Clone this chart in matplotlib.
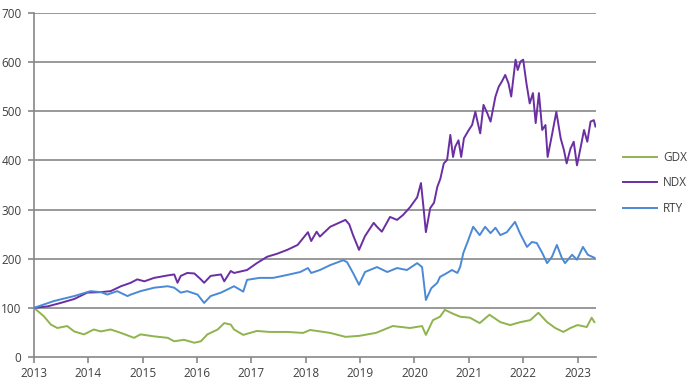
import matplotlib
matplotlib.use("Agg")
import matplotlib.pyplot as plt

# ---- data (fractional year, index value) ----
ndx_t = [2013.0, 2013.25, 2013.49, 2013.74, 2013.98, 2014.23, 2014.41, 2014.6, 2014.78, 2014.9,
         2015.03, 2015.21, 2015.46, 2015.58, 2015.64, 2015.7, 2015.82, 2015.95, 2016.07, 2016.13,
         2016.25, 2016.44, 2016.5, 2016.62, 2016.68, 2016.92, 2017.1, 2017.29, 2017.47, 2017.66,
         2017.85, 2018.04, 2018.1, 2018.2, 2018.26, 2018.45, 2018.73, 2018.8, 2018.87, 2018.98,
         2019.09, 2019.25, 2019.31, 2019.4, 2019.55, 2019.68, 2019.79, 2019.92, 2020.05, 2020.12,
         2020.17, 2020.21, 2020.29, 2020.36, 2020.42,
         2020.477, 2020.54, 2020.60, 2020.66, 2020.71, 2020.75, 2020.81, 2020.86, 2020.91, 2021.00,
         2021.06, 2021.12, 2021.16, 2021.21, 2021.27, 2021.34, 2021.40, 2021.49, 2021.55, 2021.61,
         2021.67, 2021.73, 2021.78, 2021.86, 2021.90, 2021.95, 2022.00, 2022.06, 2022.12, 2022.18,
         2022.23, 2022.29, 2022.35, 2022.41, 2022.45, 2022.53, 2022.61, 2022.69, 2022.75, 2022.80,
         2022.87, 2022.93, 2022.99, 2023.06, 2023.12, 2023.18, 2023.24, 2023.30, 2023.33]
ndx_v = [100, 103, 110, 118, 131, 132, 134, 144, 151, 158,
         154, 161, 166, 168, 151, 165, 171, 170, 158, 151,
         165, 168, 154, 175, 171, 177, 191, 204, 210, 218,
         228, 254, 236, 255, 245, 265, 279, 270, 248, 218,
         246, 273, 265, 255, 285, 279, 289, 305, 325, 354,
         300, 254, 303, 314, 346,
         363, 394, 401, 452, 407, 428, 441, 407, 445, 462,
         472, 499, 479, 455, 513, 496, 479, 530, 550, 561,
         574, 557, 530, 605, 584, 601, 605, 557, 516, 537,
         476, 537, 462, 472, 407, 452, 499, 445, 421, 394,
         424, 438, 390, 428, 462, 438, 479, 482, 469]

rty_t = [2013.0, 2013.37, 2013.74, 2014.04, 2014.23, 2014.35, 2014.53, 2014.72, 2014.78, 2014.96,
         2015.21, 2015.46, 2015.58, 2015.7, 2015.82, 2016.01, 2016.13, 2016.25, 2016.44, 2016.68,
         2016.85, 2016.92, 2017.15, 2017.4, 2017.66, 2017.9, 2018.04, 2018.1, 2018.26, 2018.45,
         2018.69, 2018.76, 2018.87, 2018.98, 2019.09, 2019.31, 2019.5, 2019.68, 2019.86, 2020.05,
         2020.14, 2020.21, 2020.31, 2020.42, 2020.47, 2020.6, 2020.69, 2020.79, 2020.84, 2020.9,
         2020.99, 2021.08, 2021.2, 2021.3, 2021.4, 2021.49, 2021.58, 2021.7, 2021.85, 2021.94,
         2022.07, 2022.16, 2022.25, 2022.35, 2022.44, 2022.53, 2022.62, 2022.71, 2022.77, 2022.9,
         2022.99, 2023.1, 2023.19, 2023.31]
rty_v = [100, 114, 124, 134, 132, 127, 134, 124, 127, 134,
         141, 144, 141, 131, 134, 127, 110, 124, 131, 144,
         133, 157, 161, 161, 167, 173, 181, 171, 177, 187,
         197, 193, 171, 147, 173, 183, 173, 181, 177, 191,
         183, 116, 140, 151, 163, 171, 177, 171, 183, 212,
         238, 265, 248, 265, 252, 263, 248, 254, 275, 252,
         224, 234, 232, 212, 191, 204, 228, 202, 191, 208,
         198, 224, 208, 202]

gdx_t = [2013.0, 2013.18, 2013.31, 2013.43, 2013.61, 2013.74, 2013.92, 2014.1, 2014.23, 2014.41,
         2014.6, 2014.84, 2014.96, 2015.21, 2015.46, 2015.58, 2015.76, 2015.95, 2016.07, 2016.19,
         2016.38, 2016.5, 2016.62, 2016.68, 2016.85, 2017.1, 2017.33, 2017.66, 2017.95, 2018.08,
         2018.45, 2018.73, 2018.98, 2019.29, 2019.6, 2019.92, 2020.14, 2020.21, 2020.34, 2020.47,
         2020.56, 2020.71, 2020.84, 2021.02, 2021.2, 2021.38, 2021.58, 2021.76, 2021.95, 2022.13,
         2022.28, 2022.44, 2022.59, 2022.74, 2022.87, 2023.0, 2023.17, 2023.26, 2023.31]
gdx_v = [100, 83, 66, 59, 63, 52, 46, 56, 52, 56,
         49, 39, 46, 42, 39, 32, 35, 29, 32, 46,
         56, 69, 66, 56, 45, 53, 51, 51, 49, 55,
         49, 41, 43, 49, 63, 59, 63, 45, 75, 82,
         96, 88, 82, 80, 69, 86, 71, 65, 71, 75,
         90, 71, 59, 51, 59, 65, 61, 80, 71]

series = ["GDX", "NDX", "RTY"]
colors = {"GDX": "#8fb34d", "NDX": "#6a2fa3", "RTY": "#4a89d5"}
years = list(range(2013, 2024))
yticks = list(range(0, 800, 100))

fig = plt.figure(figsize=(6.98, 3.92), dpi=100)
ax = fig.add_axes([34 / 698, 1 - 357 / 392, (596 - 34) / 698, (357 - 13) / 392])

data = {"GDX": (gdx_t, gdx_v), "NDX": (ndx_t, ndx_v), "RTY": (rty_t, rty_v)}
for name in series:
    t, v = data[name]
    ax.plot(t, v, color=colors[name], lw=1.4, label=name, zorder=3)

ax.set_xlim(2013, 2023.34)
ax.set_ylim(0, 700)
ax.set_xticks(years)
ax.set_xticklabels([str(y) for y in years])
ax.set_yticks(yticks)
ax.set_yticklabels([str(y) for y in yticks])

grid_col = "#878787"
for yv in yticks[1:]:
    ax.axhline(yv, color=grid_col, lw=1.2, zorder=1)
for s in ["top", "right"]:
    ax.spines[s].set_visible(False)
for s in ["left", "bottom"]:
    ax.spines[s].set_color(grid_col)
    ax.spines[s].set_linewidth(1.2)
ax.tick_params(axis="both", colors=grid_col, length=4, width=1.2,
               labelcolor="#404040", labelsize=8.5)
ax.tick_params(axis="y", pad=5)
ax.tick_params(axis="x", pad=3)
for lab in ax.get_xticklabels() + ax.get_yticklabels():
    lab.set_fontfamily("Open Sans")

handles, labels = ax.get_legend_handles_labels()
leg = fig.legend(handles, labels, loc="center left", bbox_to_anchor=(612 / 698, 1 - 183 / 392),
                 frameon=False, handlelength=2.9, labelspacing=1.05, handletextpad=0.5,
                 prop={"family": "Open Sans", "size": 8.5})
for txt in leg.get_texts():
    txt.set_color("#404040")

fig.savefig("out.png", dpi=100)
